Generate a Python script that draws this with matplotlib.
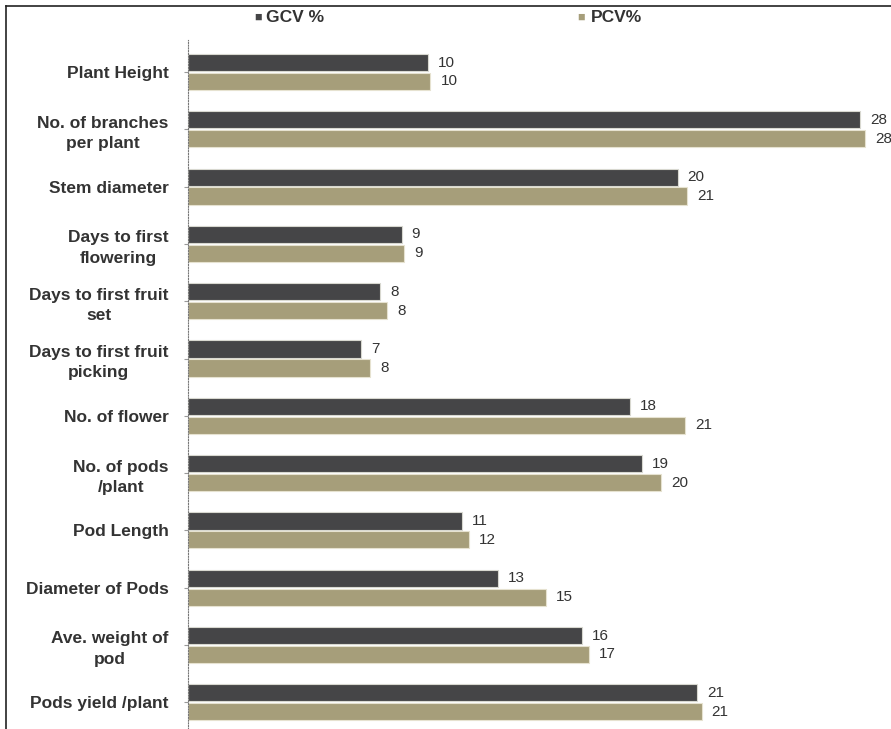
import matplotlib.pyplot as plt
import numpy as np

plt.rcParams['font.family'] = ['Liberation Sans', 'DejaVu Sans']

# traits, top to bottom
traits = ['Plant Height', 'No. of branches\nper plant', 'Stem diameter',
          'Days to first\nflowering', 'Days to first fruit\nset',
          'Days to first fruit\npicking', 'No. of flower', 'No. of pods\n/plant',
          'Pod Length', 'Diameter of Pods', 'Ave. weight of\npod',
          'Pods yield /plant']
gcv = [10.0, 28.0, 20.4, 8.9, 8.0, 7.2, 18.4, 18.9, 11.4, 12.9, 16.4, 21.2]
pcv = [10.1, 28.2, 20.8, 9.0, 8.3, 7.6, 20.7, 19.7, 11.7, 14.9, 16.7, 21.4]

W, H = 891, 729
fig = plt.figure(figsize=(W / 100, H / 100), dpi=100)

# axes in pixel terms: left 188, right 891, top 40, bottom 729
ax = fig.add_axes([188 / W, 0, 1 - 188 / W, 1 - 40 / H])
px_per_unit = 24.0
ax.set_xlim(0, (W - 188) / px_per_unit)
pitch = 57.3
ax.set_ylim((729 - 72) / pitch, (40 - 72) / pitch)

y = np.arange(len(traits))
bh = 0.3
off = 0.165
ax.barh(y - off, gcv, height=bh, color='#454547', edgecolor='#d8d8d0', linewidth=0.8)
ax.barh(y + off, pcv, height=bh, color='#a69e7a', edgecolor='#e6e2d0', linewidth=0.8)

for yi, v in zip(y, gcv):
    ax.text(v + 0.42, yi - off, f'{round(v)}', va='center', ha='left',
            fontsize=11, color='#333333', clip_on=False)
for yi, v in zip(y, pcv):
    ax.text(v + 0.42, yi + off, f'{round(v)}', va='center', ha='left',
            fontsize=11, color='#333333', clip_on=False)

ax.set_yticks(y)
ax.set_yticklabels(traits, fontsize=12.5, fontweight='bold', color='#333333',
                   multialignment='center', linespacing=1.45)
ax.tick_params(axis='y', length=3, color='#999999', pad=11)
ax.set_xticks([])
for s in ['top', 'right', 'bottom']:
    ax.spines[s].set_visible(False)
ax.spines['left'].set_linestyle((0, (1, 1.5)))
ax.spines['left'].set_color('#777777')

# legend as figure text
ly = 1 - 18 / H
fig.text(254 / W, ly, '■', fontsize=9, color='#454547', va='center', ha='left')
fig.text(266 / W, ly, 'GCV %', fontsize=12.5, fontweight='bold', color='#333333',
         va='center', ha='left')
fig.text(577 / W, ly, '■', fontsize=9, color='#a69e7a', va='center', ha='left')
fig.text(591 / W, ly, 'PCV%', fontsize=12.5, fontweight='bold', color='#333333',
         va='center', ha='left')

# frame lines (top and left) like the scanned image
fig.add_artist(plt.Line2D([6 / W, 1], [1 - 6 / H, 1 - 6 / H], color='#222222', lw=1.2))
fig.add_artist(plt.Line2D([6 / W, 6 / W], [0, 1 - 6 / H], color='#222222', lw=1.2))

fig.savefig('out.png', dpi=100)
